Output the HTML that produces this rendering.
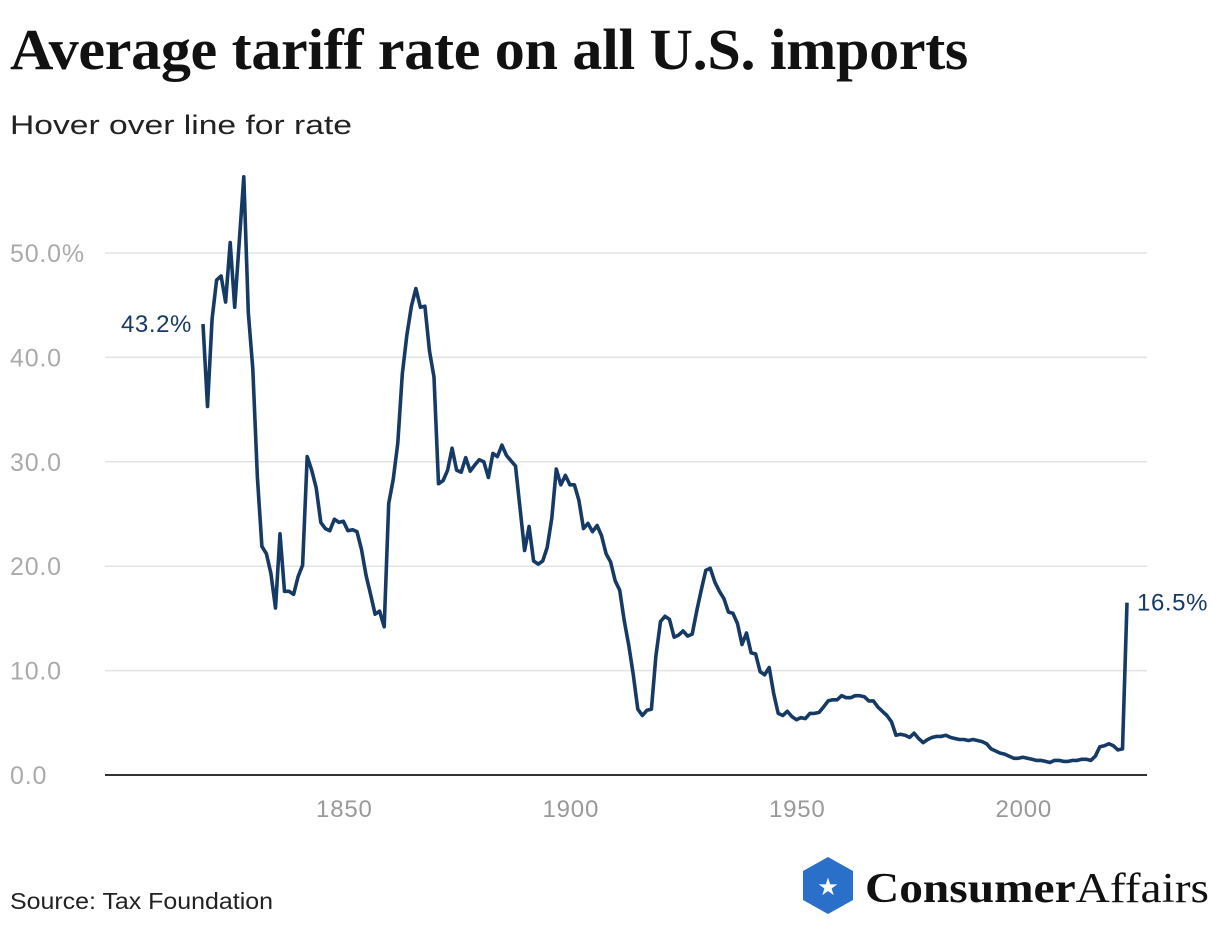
<!DOCTYPE html>
<html><head><meta charset="utf-8"><style>
body{margin:0;background:#fff;width:1220px;height:926px;overflow:hidden;font-family:"Liberation Sans",sans-serif}
</style></head><body>
<svg width="1220" height="926">
<text x="10" y="69" font-family="Liberation Serif,serif" font-size="58" font-weight="bold" fill="#111" letter-spacing="-0.3" textLength="958" lengthAdjust="spacingAndGlyphs">Average tariff rate on all U.S. imports</text>
<text x="10" y="134" font-size="27" fill="#222" textLength="342" lengthAdjust="spacingAndGlyphs">Hover over line for rate</text>
<g id="grid"></g>
<g id="xt"></g>
<path id="line" fill="none" stroke="#163a66" stroke-width="3.6" stroke-linejoin="round"/>
<text id="lblS" font-size="24" fill="#163a66" text-anchor="end" letter-spacing="0.6">43.2%</text>
<text id="lblE" font-size="24" fill="#163a66" letter-spacing="0.6">16.5%</text>
<text x="10" y="909" font-size="23" fill="#222" textLength="263" lengthAdjust="spacingAndGlyphs">Source: Tax Foundation</text>
<g>
<polygon points="828,857 853,871 853,900 828,914 803,900 803,871" fill="#2a6fc9"/>
<text x="828" y="895" font-size="24" fill="#fff" text-anchor="middle">★</text>
<text x="865" y="902" font-family="Liberation Serif,serif" font-size="42" fill="#111" textLength="344" lengthAdjust="spacingAndGlyphs"><tspan font-weight="bold">Consumer</tspan><tspan>Affairs</tspan></text>
</g>
</svg>
<script>
const startYear=1821;
const values=[43.2,35.3,43.7,47.4,47.8,45.3,51.0,44.8,51.0,57.3,
44.3,38.9,28.5,21.9,21.2,19.3,16.0,23.1,17.6,17.6,
17.3,19.0,20.1,30.5,29.2,27.5,24.2,23.6,23.4,24.5,
24.2,24.3,23.4,23.5,23.3,21.6,19.1,17.3,15.4,15.7,
14.2,26.0,28.3,31.8,38.4,42.1,44.9,46.6,44.8,44.9,
40.6,38.1,27.9,28.2,29.2,31.3,29.2,29.0,30.4,29.1,
29.7,30.2,30.0,28.5,30.8,30.5,31.6,30.6,30.1,29.6,
25.5,21.5,23.8,20.5,20.2,20.5,21.8,24.6,29.3,27.8,
28.7,27.8,27.8,26.3,23.6,24.1,23.3,23.9,22.9,21.2,
20.4,18.6,17.7,14.8,12.4,9.6,6.3,5.7,6.2,6.3,
11.4,14.7,15.2,14.9,13.2,13.4,13.8,13.3,13.5,15.7,
17.7,19.6,19.8,18.5,17.6,16.9,15.6,15.5,14.5,12.5,
13.6,11.7,11.6,9.9,9.6,10.3,7.8,5.9,5.7,6.1,
5.6,5.3,5.5,5.4,5.9,5.9,6.0,6.5,7.1,7.2,
7.2,7.6,7.4,7.4,7.6,7.6,7.5,7.1,7.1,6.5,
6.1,5.7,5.1,3.8,3.9,3.8,3.6,4.0,3.5,3.1,3.4,3.6,3.7,3.7,3.8,3.6,3.5,3.4,3.4,3.3,
3.4,3.3,3.2,3.0,2.5,2.3,2.1,2.0,1.8,1.6,1.6,1.7,1.6,1.5,1.4,1.4,1.3,1.2,1.4,1.4,
1.3,1.3,1.4,1.4,1.5,1.5,1.4,1.8,2.7,2.8,3.0,2.8,2.4,2.5,16.5];
const yTicks=[0,10,20,30,40,50];
const yTickLabels=["0.0","10.0","20.0","30.0","40.0","50.0%"];
const xTicks=[1850,1900,1950,2000];
const endYear=startYear+values.length-1;
const X=y=>203+(y-startYear)*(1127-203)/(endYear-startYear);
const Y=v=>775-v*10.44;
const NS="http://www.w3.org/2000/svg";
const grid=document.getElementById('grid'),xt=document.getElementById('xt');
yTicks.forEach((t,i)=>{
  const l=document.createElementNS(NS,'line');
  
  
  l.setAttribute('x1',105);l.setAttribute('x2',1147);l.setAttribute('y1',Y(t));l.setAttribute('y2',Y(t));
  l.setAttribute('stroke',t===0?'#333':'#e3e3e3');l.setAttribute('stroke-width',t===0?2:1.5);
  grid.appendChild(l);
  const tx=document.createElementNS(NS,'text');
  
  
  tx.setAttribute('x',10);tx.setAttribute('y',Y(t)+9);tx.setAttribute('font-size',25);tx.setAttribute('fill','#aaa');tx.setAttribute('letter-spacing','0.8');
  tx.textContent=yTickLabels[i];grid.appendChild(tx);
});
xTicks.forEach(t=>{
  const tx=document.createElementNS(NS,'text');
  
  
  tx.setAttribute('x',X(t)+10);tx.setAttribute('y',817);tx.setAttribute('font-size',24);tx.setAttribute('fill','#999');tx.setAttribute('text-anchor','middle');tx.setAttribute('letter-spacing','0.8');
  tx.textContent=t;xt.appendChild(tx);
});
document.getElementById('line').setAttribute('d',values.map((v,i)=>(i?'L':'M')+X(startYear+i).toFixed(1)+','+Y(v).toFixed(1)).join(''));
const s=document.getElementById('lblS');s.setAttribute('x',X(startYear)-11);s.setAttribute('y',Y(values[0])+8);
const e=document.getElementById('lblE');e.setAttribute('x',X(endYear)+10);e.setAttribute('y',Y(values[values.length-1])+8);
</script>
</body></html>
